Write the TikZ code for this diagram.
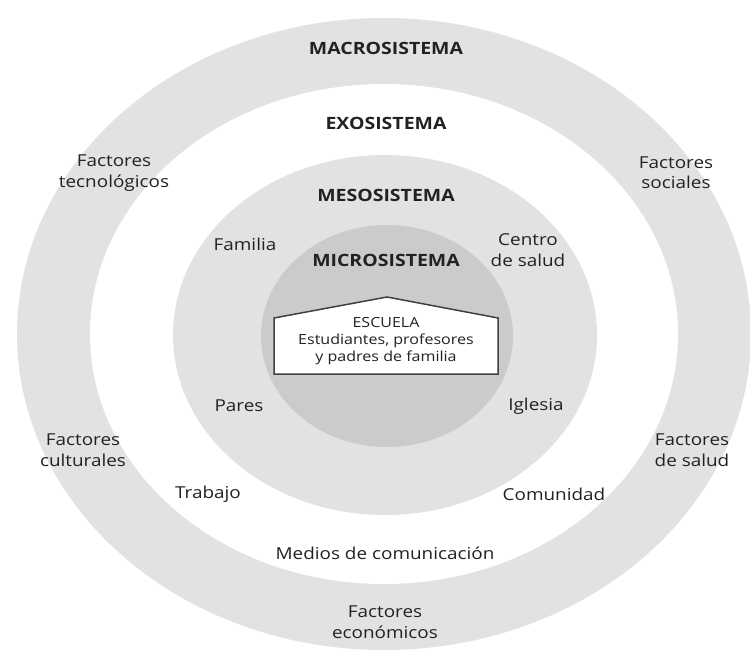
\documentclass[tikz,border=0pt]{standalone}
\usepackage{fontspec}
\setmainfont{Open Sans}[FakeStretch=1.15]
\definecolor{ringgray}{HTML}{E2E2E2}
\definecolor{microgray}{HTML}{CBCBCB}
\definecolor{textgray}{HTML}{222222}

\begin{document}
\begin{tikzpicture}[x=1bp, y=-1bp,
  lab/.style={align=center, inner sep=0pt, text=textgray, font=\fontsize{16.5}{20.5}\selectfont},
  tit/.style={inner sep=0pt, text=textgray, font=\fontsize{17}{20}\selectfont\bfseries}]
\useasboundingbox (0,0) rectangle (750,650);

% anillos
\fill[ringgray] (384,334) ellipse [x radius=367, y radius=316];
\fill[white] (384,334) ellipse [x radius=294, y radius=250];
\fill[ringgray] (385,335) ellipse [x radius=212, y radius=180];
\fill[microgray] (387,336) ellipse [x radius=126, y radius=111];

% escuela
\draw[line width=1.5, draw=black!75, fill=white]
  (274,374) -- (274,318) -- (387,297) -- (498,318) -- (498,374) -- cycle;
\node[lab, font=\fontsize{14}{17}\selectfont] (escuela) at (386,341)
  {ESCUELA\\Estudiantes, profesores\\y padres de familia};

% titulos
\node[tit] (macro) at (386,48) {MACROSISTEMA};
\node[tit] (exo) at (386,123) {EXOSISTEMA};
\node[tit] (meso) at (386,195) {MESOSISTEMA};
\node[tit] (micro) at (386,260) {MICROSISTEMA};

% mesosistema
\node[lab] (familia) at (245,244) {Familia};
\node[lab] (centro) at (528,250) {Centro\\de salud};
\node[lab] (pares) at (239,406) {Pares};
\node[lab] (iglesia) at (536,406) {Iglesia};

% exosistema
\node[lab] (trabajo) at (208,494) {Trabajo};
\node[lab] (comunidad) at (554,494) {Comunidad};
\node[lab] (medios) at (385,553) {Medios de comunicación};

% macrosistema
\node[lab] (tecno) at (114,173) {Factores\\tecnológicos};
\node[lab] (social) at (676,173) {Factores\\sociales};
\node[lab] (cultura) at (83,450) {Factores\\culturales};
\node[lab] (salud) at (692,450) {Factores\\de salud};
\node[lab] (econo) at (385,622) {Factores\\económicos};

\end{tikzpicture}
\end{document}
